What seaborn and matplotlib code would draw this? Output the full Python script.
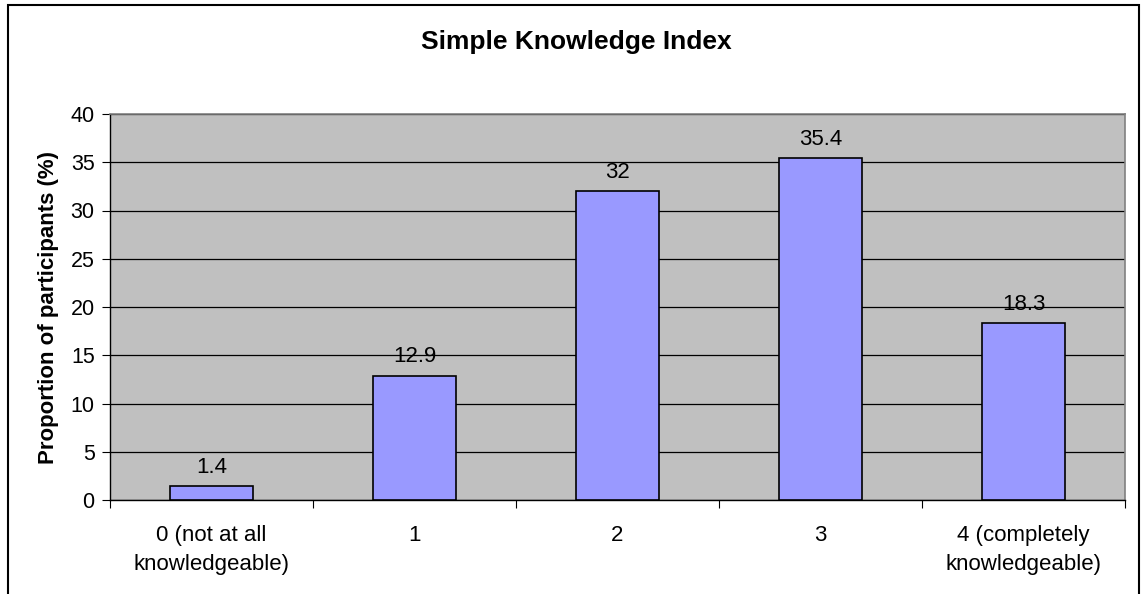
"""
Simple Knowledge Index bar chart.
"""
import numpy as np
import pandas as pd
import matplotlib
matplotlib.use("Agg")
import matplotlib.pyplot as plt
import seaborn as sns
from matplotlib.patches import Rectangle

categories = ["0 (not at all\nknowledgeable)", "1", "2", "3",
              "4 (completely\nknowledgeable)"]
values = [1.4, 12.9, 32, 35.4, 18.3]
value_labels = ["1.4", "12.9", "32", "35.4", "18.3"]
y_ticks = [0, 5, 10, 15, 20, 25, 30, 35, 40]

sns.set_style("white")
plt.rcParams['font.family'] = ['Liberation Sans', 'DejaVu Sans']
plt.rcParams['text.color'] = 'black'
plt.rcParams['xtick.color'] = 'black'
plt.rcParams['ytick.color'] = 'black'
plt.rcParams['axes.labelcolor'] = 'black'

df = pd.DataFrame({"category": categories, "value": values})

fig = plt.figure(figsize=(11.41, 5.94), dpi=100)
ax = fig.add_axes([110 / 1141, 1 - 500 / 594, 1015 / 1141, 386 / 594])

sns.barplot(data=df, x="category", y="value", color="#9999ff",
            saturation=1, width=0.41, edgecolor="black", linewidth=1.2,
            ax=ax, zorder=3)

ax.set_facecolor("#c0c0c0")
ax.set_ylim(0, 40)
ax.set_xlim(-0.5, len(categories) - 0.5)
ax.set_yticks(y_ticks)
ax.set_yticklabels([str(t) for t in y_ticks], fontsize=15.5)
ax.yaxis.grid(True, color="black", linewidth=0.9, zorder=0)
ax.set_axisbelow(True)

# category labels sit between the boundary ticks
ax.set_xticks(np.arange(-0.5, len(categories), 1.0))
ax.set_xticklabels([])
ax.set_xticks(np.arange(len(categories)), minor=True)
ax.set_xticklabels(categories, minor=True, fontsize=16)
ax.tick_params(axis="x", which="minor", length=0, pad=18)
ax.tick_params(axis="x", which="major", length=6, color="black", direction="out")
ax.tick_params(axis="y", length=6, color="black", direction="out", pad=5)
ax.tick_params(bottom=True, left=True)

for lbl in ax.get_xticklabels(minor=True):
    lbl.set_linespacing(1.5)

for i, (v, t) in enumerate(zip(values, value_labels)):
    ax.text(i, v + 0.9, t, ha="center", va="bottom", fontsize=16, zorder=4)

for side in ["top", "right"]:
    ax.spines[side].set_color("#808080")
    ax.spines[side].set_linewidth(1.2)
for side in ["left", "bottom"]:
    ax.spines[side].set_color("black")
    ax.spines[side].set_linewidth(1.0)

ax.set_xlabel("")
ax.set_ylabel("Proportion of participants (%)", fontsize=16, fontweight="bold",
              labelpad=8)

fig.text(576 / 1141, 1 - 42 / 594, "Simple Knowledge Index", ha="center",
         va="center", fontsize=19, fontweight="bold")

# outer chart frame (bottom edge falls outside the image)
fig.patches.append(Rectangle((8 / 1141, -0.05), 1131 / 1141, 1.05 - 5 / 594,
                             transform=fig.transFigure, fill=False,
                             edgecolor="black", linewidth=1.5))

fig.savefig("out.png", dpi=100)
